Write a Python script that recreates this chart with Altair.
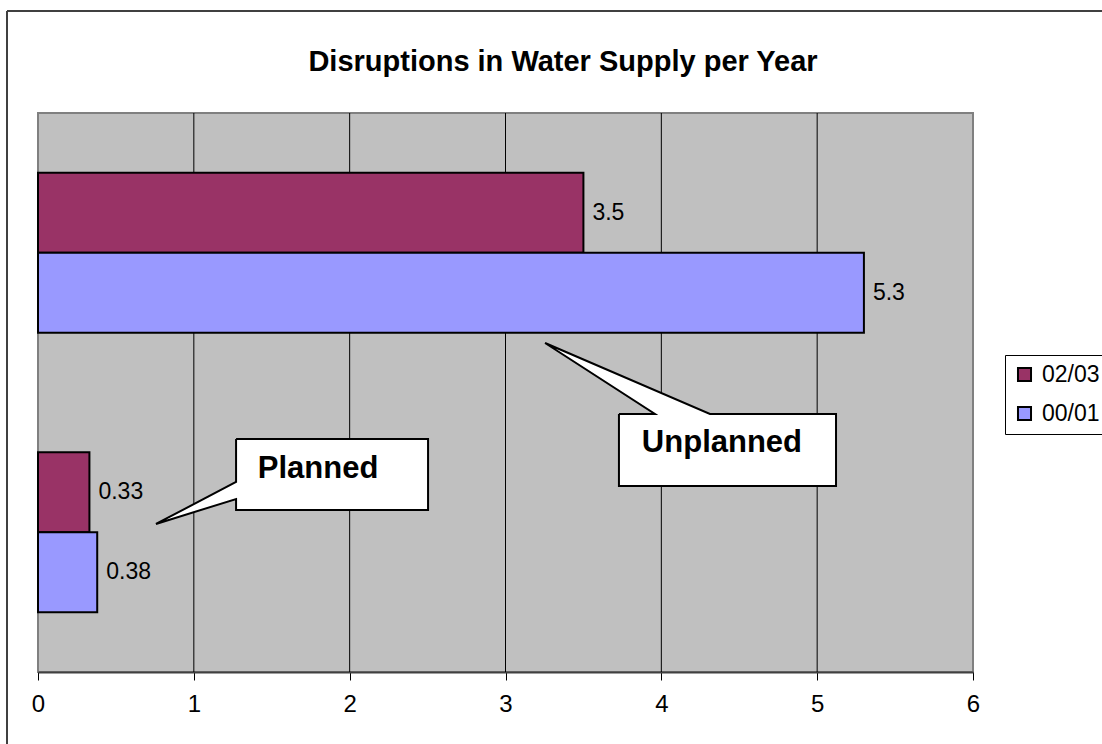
import altair as alt
import pandas as pd

# ---- data ----
chart_title = "Disruptions in Water Supply per Year"
categories = ["Unplanned", "Planned"]
series = ["02/03", "00/01"]
values_0203 = [3.5, 0.33]
values_0001 = [5.3, 0.38]
colors = ["#993366", "#9999FF"]
axis_ticks = [0, 1, 2, 3, 4, 5, 6]
grid_ticks = [1, 2, 3, 4, 5]

# callout annotations (x in value units, y as fraction of plot height from top)
callout_names = ["Unplanned", "Planned"]
unplanned_x = [3.728, 3.959, 3.254, 4.312, 5.121, 5.121, 3.728, 3.728]
unplanned_y = [0.5385, 0.5385, 0.4114, 0.5385, 0.5385, 0.6673, 0.6673, 0.5385]
planned_x = [1.271, 2.503, 2.503, 1.271, 1.271, 0.757, 1.271, 1.271]
planned_y = [0.5832, 0.5832, 0.7102, 0.7102, 0.6905, 0.7352, 0.6601, 0.5832]
callout_text_x = [4.389, 1.797]
callout_text_y = [0.5903, 0.6369]

FONT = "Liberation Sans"

rows = []
for i, c in enumerate(categories):
    rows.append({"category": c, "series": series[0], "value": values_0203[i]})
    rows.append({"category": c, "series": series[1], "value": values_0001[i]})
bars_df = pd.DataFrame(rows)

poly_rows = []
for name, xs, ys in [("Unplanned", unplanned_x, unplanned_y), ("Planned", planned_x, planned_y)]:
    for i, (x, y) in enumerate(zip(xs, ys)):
        poly_rows.append({"callout": name, "i": i, "x": x, "y": y})
poly_df = pd.DataFrame(poly_rows)
text_df = pd.DataFrame({"label": callout_names, "x": callout_text_x, "y": callout_text_y})
grid_df = pd.DataFrame({"t": grid_ticks})
title_df = pd.DataFrame({"title": [chart_title]})

xscale = alt.Scale(domain=[0, 6], nice=False, zero=True)
yscale = alt.Scale(domain=categories, paddingInner=0.4276, paddingOuter=0.2138)
ann_y = alt.Scale(domain=[0, 1], reverse=True, nice=False, zero=False)
off_scale = alt.Scale(paddingInner=0, paddingOuter=0)

x_axis = alt.Axis(values=axis_ticks, format="d", grid=False, title=None, labelFlush=False,
                  domainColor="#404040", domainWidth=2, tickColor="black", tickSize=8,
                  labelFont=FONT, labelFontSize=24, labelColor="black", labelPadding=12)

grid = alt.Chart(grid_df).mark_rule(color="black", strokeWidth=1).encode(
    x=alt.X("t:Q", scale=xscale, axis=x_axis),
)

bars = alt.Chart(bars_df).mark_bar(stroke="black", strokeWidth=2).encode(
    x=alt.X("value:Q", scale=xscale, axis=x_axis),
    y=alt.Y("category:N", scale=yscale, axis=None, sort=categories),
    yOffset=alt.YOffset("series:N", sort=series, scale=off_scale),
    color=alt.Color("series:N", sort=series,
                    scale=alt.Scale(domain=series, range=colors),
                    legend=alt.Legend(title=None, orient="none", legendX=967, legendY=242,
                                      fillColor="white", strokeColor="black", padding=8,
                                      symbolType="square", symbolSize=170,
                                      symbolStrokeColor="black", symbolStrokeWidth=2,
                                      labelFont=FONT, labelFontSize=23, labelColor="black",
                                      labelOffset=6, rowPadding=15)),
)

labels = alt.Chart(bars_df).mark_text(align="left", baseline="middle", dx=9,
                                      font=FONT, fontSize=23, color="black").encode(
    x=alt.X("value:Q", scale=xscale),
    y=alt.Y("category:N", scale=yscale, axis=None, sort=categories),
    yOffset=alt.YOffset("series:N", sort=series, scale=off_scale),
    text=alt.Text("value:Q"),
)

base_layer = alt.layer(grid, bars, labels)

callouts = alt.Chart(poly_df).mark_line(fill="white", stroke="black", strokeWidth=2,
                                        strokeJoin="miter").encode(
    x=alt.X("x:Q", scale=xscale),
    y=alt.Y("y:Q", scale=ann_y, axis=None),
    detail="callout:N",
    order=alt.Order("i:Q"),
)

callout_text = alt.Chart(text_df).mark_text(font=FONT, fontSize=31, fontWeight="bold",
                                            align="center", baseline="middle", color="black").encode(
    x=alt.X("x:Q", scale=xscale),
    y=alt.Y("y:Q", scale=ann_y, axis=None),
    text="label:N",
)

title_mark = alt.Chart(title_df).mark_text(font=FONT, fontSize=29, fontWeight="bold",
                                           align="center", baseline="middle", color="black").encode(
    x=alt.value(525), y=alt.value(-51), text="title:N"
)

border_left = alt.Chart(grid_df).mark_rule(color="#404040", strokeWidth=1.5).encode(
    x=alt.value(-31), y=alt.value(-102), y2=alt.value(640)
)
border_top = alt.Chart(grid_df).mark_rule(color="#404040", strokeWidth=1.5).encode(
    x=alt.value(-31), x2=alt.value(1070), y=alt.value(-102)
)

ann_layer = alt.layer(callouts, callout_text, title_mark, border_left, border_top)

chart = alt.layer(base_layer, ann_layer).resolve_scale(y="independent").properties(
    width=935,
    height=559,
    autosize=alt.AutoSizeParams(type="none"),
    padding={"left": 38, "top": 113, "right": 129, "bottom": 72},
    background="white",
).configure_view(
    fill="#C0C0C0", stroke="#808080", strokeWidth=2
)

chart.save("out.html", embed_options={"renderer": "svg", "actions": False})
